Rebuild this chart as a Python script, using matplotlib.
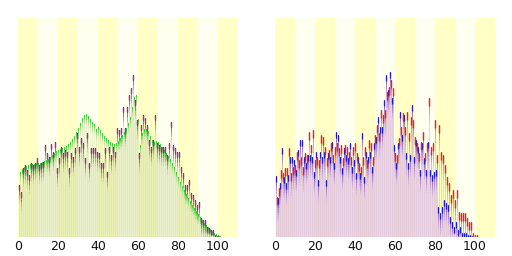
import numpy as np
import matplotlib
matplotlib.use("Agg")
import matplotlib.pyplot as plt
from matplotlib.collections import LineCollection
from matplotlib.colors import to_rgba

ages = list(range(0, 101))

# Left panel: local population by age (purple) vs. national distribution (green), relative units
local_pop = [52, 45, 69, 72, 67, 62, 74, 72, 74, 79,
             72, 74, 75, 92, 84, 80, 93, 85, 95, 69,
             79, 90, 84, 87, 85, 69, 84, 80, 89, 104,
             90, 99, 94, 79, 104, 74, 89, 89, 89, 85,
             84, 74, 74, 89, 65, 90, 82, 90, 85, 109,
             107, 109, 130, 109, 130, 142, 149, 162, 137, 117,
             84, 112, 122, 119, 112, 97, 90, 97, 122, 94,
             92, 90, 90, 90, 82, 94, 115, 92, 89, 85,
             85, 70, 64, 52, 52, 57, 44, 42, 37, 32,
             35, 19, 17, 17, 10, 9, 7, 7, 2, 1, 1]
national_pop = [65, 68, 70, 71, 72, 73, 73, 73, 74, 74,
                74, 75, 76, 77, 78, 80, 82, 84, 86, 87,
                88, 89, 90, 91, 93, 95, 98, 101, 105, 109,
                114, 119, 122, 123, 121, 118, 115, 113, 108, 110,
                107, 104, 101, 99, 97, 95, 94, 93, 94, 96,
                99, 102, 105, 109, 114, 120, 130, 140, 142, 118,
                92, 104, 108, 108, 106, 101, 97, 95, 96, 95,
                93, 90, 87, 84, 81, 78, 74, 70, 65, 60,
                55, 51, 47, 43, 39, 36, 32, 29, 26, 23,
                20, 17, 14, 12, 10, 8, 6, 4, 3, 2, 1]

# Right panel: male (blue) and female (red), relative units
male_pop = [61, 39, 54, 89, 60, 54, 62, 80, 80, 77,
            67, 87, 97, 97, 80, 74, 82, 82, 80, 65,
            85, 57, 85, 80, 85, 57, 84, 80, 95, 74,
            105, 102, 80, 69, 89, 82, 79, 94, 70, 77,
            64, 80, 64, 104, 60, 85, 80, 85, 70, 94,
            100, 120, 110, 110, 137, 162, 147, 165, 139, 92,
            74, 94, 125, 102, 122, 84, 74, 82, 132, 80,
            97, 90, 67, 94, 79, 67, 95, 67, 62, 65,
            67, 30, 24, 30, 37, 34, 32, 20, 15, 10,
            15, 7, 10, 4, 4, 4, 2, 2, 1, 0, 0]
female_pop = [40, 49, 67, 64, 69, 69, 89, 64, 70, 72,
              85, 77, 80, 70, 84, 82, 105, 92, 107, 77,
              80, 77, 102, 100, 90, 79, 87, 94, 82, 90,
              94, 89, 92, 79, 92, 90, 85, 80, 90, 94,
              84, 74, 70, 80, 90, 77, 97, 94, 80, 102,
              112, 104, 127, 122, 127, 145, 150, 157, 149, 84,
              82, 99, 110, 124, 110, 125, 104, 120, 117, 100,
              94, 84, 95, 105, 84, 94, 139, 90, 94, 117,
              82, 112, 85, 82, 72, 60, 54, 42, 47, 37,
              47, 25, 24, 24, 24, 19, 15, 15, 4, 2, 2]

xticks = [0, 20, 40, 60, 80, 100]

W, H = 512, 256
fig = plt.figure(figsize=(W / 100, H / 100), dpi=100)
fig.patch.set_facecolor("white")

PX = 72.0 / 100.0  # one pixel in points


def blend(c1, c2, t):
    a = np.array(to_rgba(c1))
    b = np.array(to_rgba(c2))
    return tuple(a * (1 - t) + b * t)


def draw_bars(ax, xs, hs, body, dark, tip, fade, tipl, n=14, z=3, p=1.3, tipw=1.0):
    segs, cols = [], []
    tsegs, tcols = [], []
    for x, h in zip(xs, hs):
        if h <= 0:
            continue
        L = min(fade, h)
        if h - L > 0:
            segs.append([(x, 0), (x, h - L)])
            cols.append(to_rgba(body))
        for j in range(n):
            y0 = h - L + L * j / n
            y1 = h - L + L * (j + 1) / n
            t = ((j + 1) / n) ** p
            segs.append([(x, y0), (x, y1)])
            cols.append(blend(body, dark, t))
        tl = min(tipl, h)
        tsegs.append([(x, h - tl), (x, h)])
        tcols.append(to_rgba(tip))
    ax.add_collection(LineCollection(segs, colors=cols, linewidths=PX, capstyle="butt",
                                     antialiaseds=False, zorder=z))
    ax.add_collection(LineCollection(tsegs, colors=tcols, linewidths=PX * tipw,
                                     capstyle="butt", zorder=z + 0.5))


def setup(ax):
    for i, d in enumerate(range(0, 110, 10)):
        ax.axvspan(d, d + 10, color="#ffffc6" if i % 2 == 0 else "#fffff0", lw=0, zorder=0)
    ax.set_xlim(0, 110)
    ax.set_ylim(0, 219)
    for s in ax.spines.values():
        s.set_visible(False)
    ax.set_yticks([])
    ax.set_xticks(xticks)
    ax.set_xticklabels([str(t) for t in xticks])
    ax.tick_params(axis="x", length=0, pad=2, labelsize=9, labelcolor="#111111")


axL = fig.add_axes([18 / W, 19 / H, 220 / W, 219 / H])
axR = fig.add_axes([275 / W, 19 / H, 220 / W, 219 / H])
setup(axL)
setup(axR)

xa = np.array(ages, dtype=float)
# left: national (green) and local (purple), side by side columns
draw_bars(axL, xa + 0.75, national_pop, body=(0.84, 0.88, 0.66, 0.5),
          dark=(0.30, 0.80, 0.30, 1.0), tip="#30d030", fade=10, tipl=2, p=1.6)
draw_bars(axL, xa + 0.25, local_pop, body=(0.80, 0.80, 0.76, 0.55),
          dark=(0.35, 0.12, 0.35, 1.0), tip="#9a3096", fade=18, tipl=5, z=4, tipw=1.45)

# right: male (blue) and female (red)
draw_bars(axR, xa + 0.25, male_pop, body=(0.88, 0.76, 0.86, 0.85),
          dark=(0.45, 0.25, 0.75, 1.0), tip="#1c1cc8", fade=22, tipl=6, tipw=1.3)
draw_bars(axR, xa + 0.75, female_pop, body=(0.93, 0.72, 0.70, 0.6),
          dark=(0.92, 0.30, 0.30, 1.0), tip="#e82020", fade=24, tipl=8, tipw=1.45)

fig.savefig("out.png", dpi=100)
